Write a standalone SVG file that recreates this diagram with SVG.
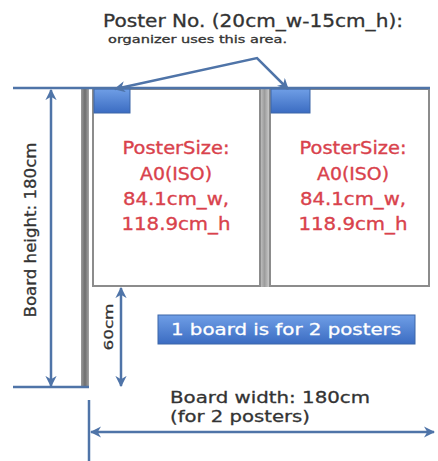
<svg xmlns="http://www.w3.org/2000/svg" width="438" height="461" viewBox="0 0 438 461">
<style>
.conn{stroke:#4f74a8;stroke-width:2.5;fill:none}
.poster{fill:#ffffff;stroke:#8c8c8c;stroke-width:2}
.red{font-family:"DejaVu Sans","Liberation Sans",sans-serif;font-size:17px;fill:#d9424c;stroke:#d9424c;stroke-width:0.35;text-anchor:middle}
.dark{font-family:"DejaVu Sans","Liberation Sans",sans-serif;fill:#333333;stroke:#333333;stroke-width:0.3}
.tag{fill:url(#blueg);stroke:#3d67a8;stroke-width:1}
</style>
<defs>
<linearGradient id="blueg" x1="0" y1="0" x2="0" y2="1">
<stop offset="0" stop-color="#6f9ee6"/>
<stop offset="1" stop-color="#3b6cc2"/>
</linearGradient>
<linearGradient id="grayg" x1="0" y1="0" x2="1" y2="0">
<stop offset="0" stop-color="#9a9a9a"/>
<stop offset="0.5" stop-color="#6e6e6e"/>
<stop offset="1" stop-color="#a5a5a5"/>
</linearGradient>
<linearGradient id="grayl" x1="0" y1="0" x2="1" y2="0">
<stop offset="0" stop-color="#c4c4c4"/>
<stop offset="0.5" stop-color="#9c9c9c"/>
<stop offset="1" stop-color="#c8c8c8"/>
</linearGradient>
<marker id="ah" viewBox="0 0 10 10" refX="9" refY="5" markerWidth="4.5" markerHeight="4.5" orient="auto-start-reverse">
<path d="M0,0 L10,5 L0,10 L3,5 z" fill="#4f74a8"/>
</marker>
</defs>
<rect width="438" height="461" fill="#ffffff"/>
<g id="title">
<text class="dark" x="103" y="27" font-size="17" textLength="300" lengthAdjust="spacingAndGlyphs">Poster No. (20cm_w-15cm_h):</text>
<text class="dark" x="108" y="43" font-size="10.5" stroke-width="0.2" textLength="179" lengthAdjust="spacingAndGlyphs">organizer uses this area.</text>
</g>
<g id="board">
<rect x="81" y="88" width="8" height="300" fill="url(#grayg)"/>
<rect x="260" y="88" width="9" height="199" fill="url(#grayl)"/>
</g>
<g id="poster1">
<rect class="poster" x="93" y="89" width="167" height="197"/>
<rect class="tag" x="94" y="89" width="36" height="24"/>
<text class="red" x="176" y="154" textLength="107" lengthAdjust="spacingAndGlyphs">PosterSize:</text>
<text class="red" x="176" y="180" textLength="72" lengthAdjust="spacingAndGlyphs">A0(ISO)</text>
<text class="red" x="176" y="205" textLength="106" lengthAdjust="spacingAndGlyphs">84.1cm_w,</text>
<text class="red" x="176" y="230" textLength="109" lengthAdjust="spacingAndGlyphs">118.9cm_h</text>
</g>
<g id="poster2">
<rect class="poster" x="270" y="89" width="159" height="197"/>
<rect class="tag" x="271" y="89" width="39" height="24"/>
<text class="red" x="353" y="154" textLength="107" lengthAdjust="spacingAndGlyphs">PosterSize:</text>
<text class="red" x="353" y="180" textLength="72" lengthAdjust="spacingAndGlyphs">A0(ISO)</text>
<text class="red" x="353" y="205" textLength="106" lengthAdjust="spacingAndGlyphs">84.1cm_w,</text>
<text class="red" x="353" y="230" textLength="109" lengthAdjust="spacingAndGlyphs">118.9cm_h</text>
</g>
<g id="label">
<rect class="tag" x="158" y="315" width="257" height="29"/>
<text x="286" y="335" font-family="'DejaVu Sans','Liberation Sans',sans-serif" font-size="16" fill="#ffffff" stroke="#ffffff" stroke-width="0.3" text-anchor="middle" textLength="230" lengthAdjust="spacingAndGlyphs">1 board is for 2 posters</text>
</g>
<g id="dims">
<text class="dark" font-size="15" text-anchor="middle" textLength="175" lengthAdjust="spacingAndGlyphs" transform="translate(36,230) rotate(-90)">Board height: 180cm</text>
<text class="dark" font-size="13" text-anchor="middle" textLength="47" lengthAdjust="spacingAndGlyphs" transform="translate(113,327) rotate(-90)">60cm</text>
<text class="dark" x="170" y="403" font-size="16" textLength="200" lengthAdjust="spacingAndGlyphs">Board width: 180cm</text>
<text class="dark" x="170" y="422" font-size="16" textLength="140" lengthAdjust="spacingAndGlyphs">(for 2 posters)</text>
</g>
<g id="connectors">
<line class="conn" x1="13" y1="88" x2="430" y2="88" stroke-width="2"/>
<line class="conn" x1="13" y1="387" x2="89" y2="387" stroke-width="2"/>
<line class="conn" x1="51" y1="90" x2="51" y2="386" marker-start="url(#ah)" marker-end="url(#ah)"/>
<line class="conn" x1="121" y1="288" x2="121" y2="386" marker-start="url(#ah)" marker-end="url(#ah)"/>
<line class="conn" x1="89" y1="400" x2="89" y2="461"/>
<line class="conn" x1="91" y1="432" x2="434" y2="432" marker-start="url(#ah)" marker-end="url(#ah)"/>
<polyline class="conn" points="115,89 257,58 288,89" marker-start="url(#ah)" marker-end="url(#ah)"/>
</g>
</svg>
